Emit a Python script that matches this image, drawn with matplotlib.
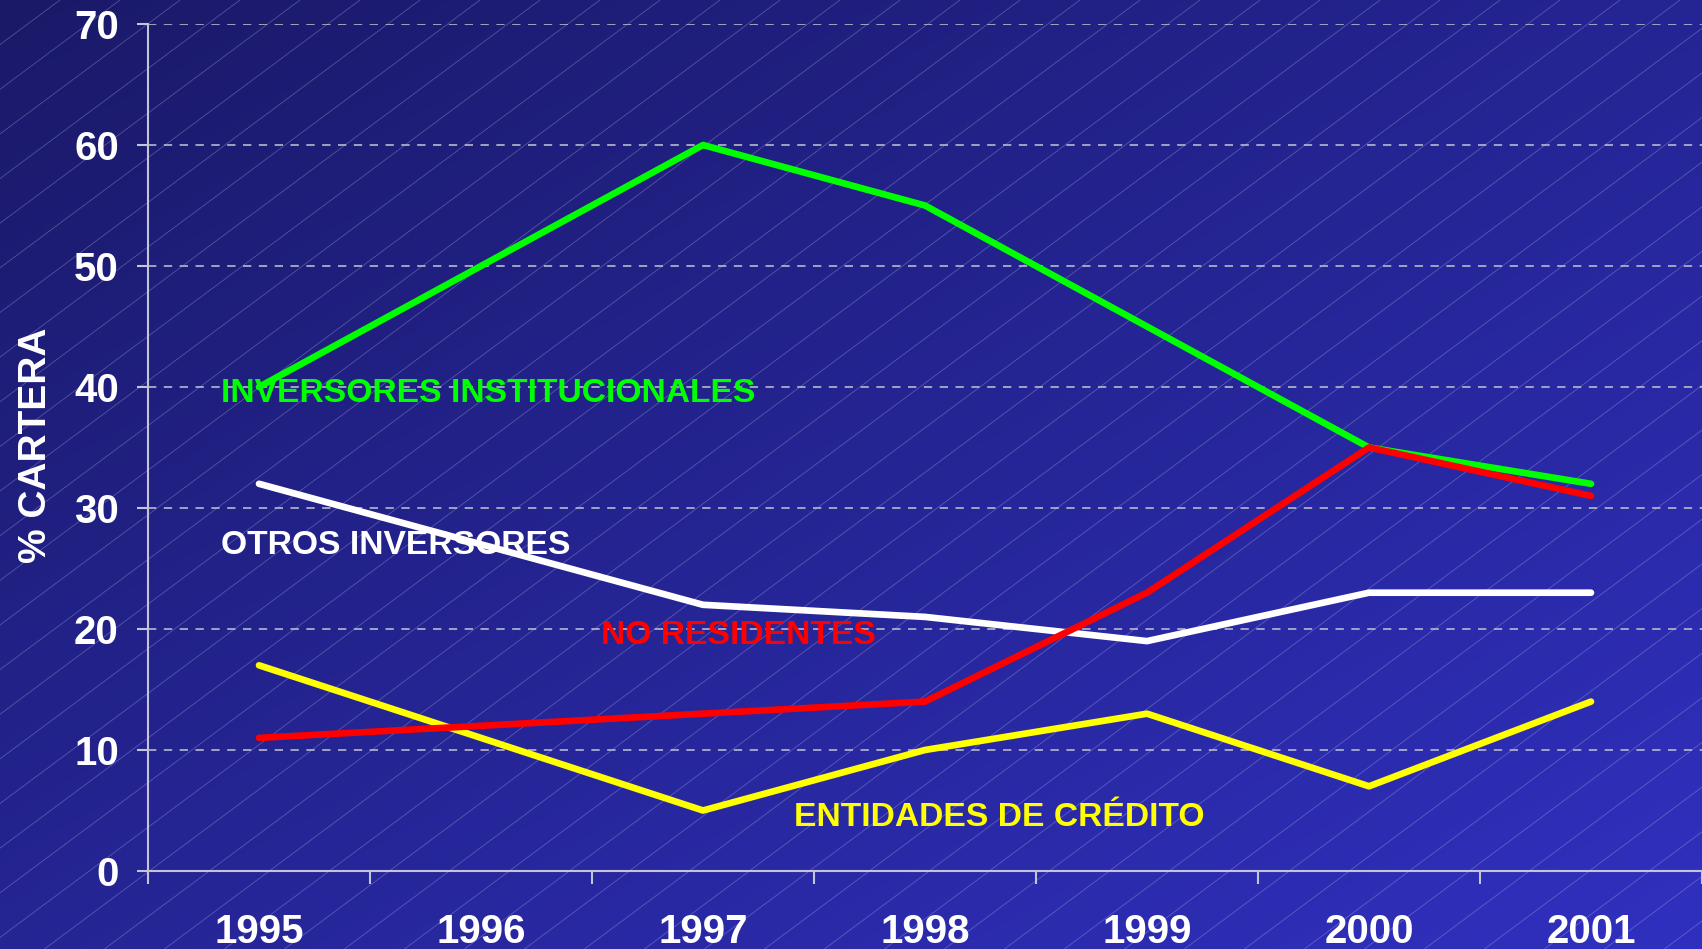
import numpy as np
import matplotlib
matplotlib.use("Agg")
import matplotlib.pyplot as plt
from matplotlib.collections import LineCollection

plt.rcParams['font.family'] = ['Liberation Sans', 'DejaVu Sans']
plt.rcParams['font.weight'] = 'bold'

# data
years = ['1995', '1996', '1997', '1998', '1999', '2000', '2001']
institucionales = [40, 50, 60, 55, 45, 35, 32]
otros = [32, 27, 22, 21, 19, 23, 23]
no_residentes = [11, 12, 13, 14, 23, 35, 31]
entidades = [17, 11, 5, 10, 13, 7, 14]
yticks = [0, 10, 20, 30, 40, 50, 60, 70]

W, H = 1702, 949
fig = plt.figure(figsize=(W / 100, H / 100), dpi=100)

# background gradient + diagonal hatch lines
bg = fig.add_axes([0, 0, 1, 1], zorder=-10)
xx, yy = np.meshgrid(np.linspace(0, 1, 400), np.linspace(0, 1, 220))
t = (xx + yy) / 2.0  # yy=0 top row in imshow (origin upper)
c0 = np.array([26, 25, 104]) / 255.0
c1 = np.array([48, 48, 192]) / 255.0
img = c0[None, None, :] * (1 - t[..., None]) + c1[None, None, :] * t[..., None]
bg.imshow(img, extent=[0, W, 0, H], aspect='auto', origin='upper')
slope = 0.744
segs = []
for x0 in np.arange(-H / slope - 60, W + 60, 60):
    segs.append([(x0, 0), (x0 + H / slope, H)])
bg.add_collection(LineCollection(segs, colors='#c8c8f0', linewidths=0.6, alpha=0.32))
bg.set_xlim(0, W)
bg.set_ylim(0, H)
bg.axis('off')

# main axes
left, right, top, bottom = 148, W, 24, 871
ax = fig.add_axes([left / W, 1 - bottom / H, (right - left) / W, (bottom - top) / H])
ax.set_facecolor('none')

x = np.arange(len(years))
lw = 4.8
ax.plot(x, institucionales, color='#00ff00', lw=lw, solid_capstyle='round', zorder=3)
ax.plot(x, otros, color='white', lw=lw, solid_capstyle='round', zorder=3)
ax.plot(x, no_residentes, color='#ff0000', lw=lw, solid_capstyle='round', zorder=4)
ax.plot(x, entidades, color='#ffff00', lw=lw, solid_capstyle='round', zorder=3)

ax.set_xlim(-0.5, len(years) - 0.5)
ax.set_ylim(0, 70)
ax.set_yticks(yticks)
ax.set_xticks(np.arange(-0.5, len(years), 1.0))
ax.set_xticklabels([])
ax.set_xticks(x, minor=True)
ax.set_xticklabels(years, minor=True)

spine_c = '#c4c4d8'
for s in ['top', 'right']:
    ax.spines[s].set_visible(False)
for s in ['left', 'bottom']:
    ax.spines[s].set_color(spine_c)
    ax.spines[s].set_linewidth(1.5)

ax.tick_params(axis='y', colors=spine_c, length=8, width=1.5, pad=13,
               labelsize=29, labelcolor='white')
ax.tick_params(axis='x', which='major', colors=spine_c, length=9, width=1.5)
ax.tick_params(axis='x', which='minor', length=0, pad=30, labelsize=29,
               labelcolor='white')
for lab in ax.get_yticklabels() + ax.get_xticklabels(minor=True):
    lab.set_fontweight('bold')

ax.yaxis.grid(True, color='#b8b8cc', lw=1.2, linestyle=(0, (5, 4.5)))
ax.set_axisbelow(True)

# series labels
fs = 24.2
ax.text(-0.17, 39.5, 'INVERSORES INSTITUCIONALES', color='#00ff00', fontsize=fs,
        fontweight='bold', va='center', ha='left', zorder=5)
ax.text(-0.17, 26.9, 'OTROS INVERSORES', color='white', fontsize=fs,
        fontweight='bold', va='center', ha='left', zorder=5)
ax.text(1.54, 19.5, 'NO RESIDENTES', color='#ff0000', fontsize=fs,
        fontweight='bold', va='center', ha='left', zorder=5)
ax.text(2.41, 4.4, 'ENTIDADES DE CRÉDITO', color='#ffff00', fontsize=fs,
        fontweight='bold', va='center', ha='left', zorder=5)

fig.text(36 / W, 1 - 445 / H, '% CARTERA', rotation=90, color='white', fontsize=28,
         fontweight='bold', va='center', ha='center')

fig.savefig('out.png', dpi=100)
